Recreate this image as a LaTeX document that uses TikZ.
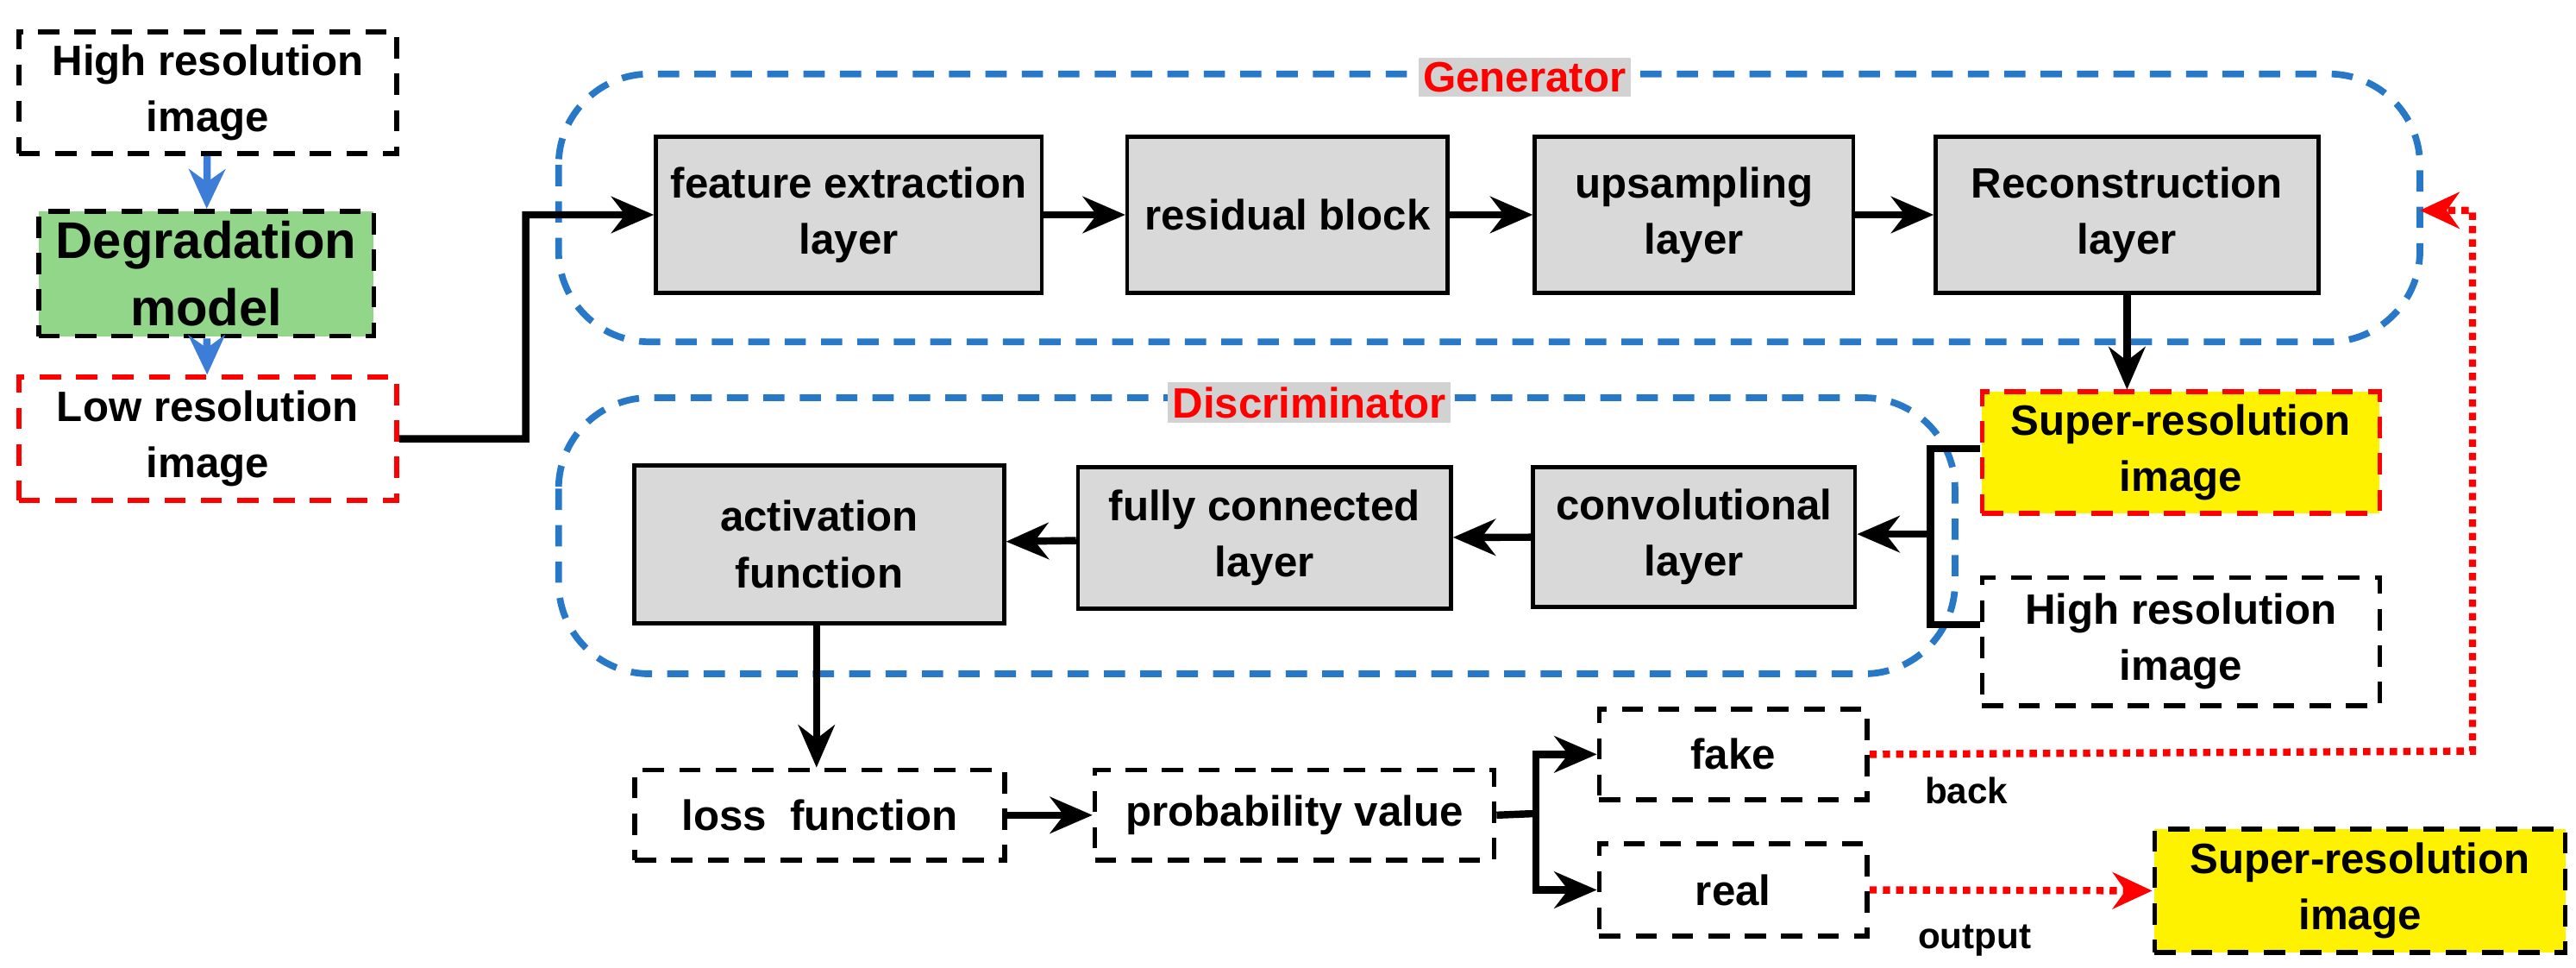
\documentclass[tikz,border=0pt]{standalone}
\usepackage{fontspec}
\setmainfont{Liberation Sans}
\usetikzlibrary{arrows.meta}
\newcommand\UU{0.01905cm}
\definecolor{dgreen}{RGB}{146,214,138}
\definecolor{gblue}{RGB}{40,120,200}
\definecolor{abl}{RGB}{60,125,215}
\begin{document}
\begin{tikzpicture}[x=\UU,y=-\UU,
 box/.style={draw,line width=1.6pt,dash pattern=on 7pt off 5pt,font=\bfseries\fontsize{14}{18.5}\selectfont,align=center,anchor=north west,inner sep=0pt},
 gbox/.style={draw,line width=1.3pt,fill=gray!30,font=\bfseries\fontsize{14}{18.5}\selectfont,align=center,anchor=north west,inner sep=0pt},
 grp/.style={draw=gblue,line width=2.2pt,dash pattern=on 7pt off 5pt,rounded corners=30pt},
 ar/.style={line width=2.4pt,-{Stealth[length=14pt,width=12pt]}},
 bar/.style={draw=abl,line width=2.4pt,-{Stealth[length=13pt,width=12pt]}},
 rd/.style={draw=red,line width=2.4pt,dotted,-{Stealth[length=13pt,width=12pt]}},
 lab/.style={font=\bfseries\fontsize{14}{18}\selectfont,text=red,fill=gray!35,inner sep=1.5pt}]
\useasboundingbox (0,0) rectangle (1568,588.5);
% left column
\node[box,minimum width=230*\UU,minimum height=74*\UU] (hr) at (10,18) {High resolution\\image};
\node[box,fill=dgreen,minimum width=204*\UU,minimum height=76*\UU,font=\bfseries\fontsize{17}{22}\selectfont] (deg) at (22,127) {Degradation\\model};
\node[box,draw=red,minimum width=230*\UU,minimum height=75*\UU] (lr) at (10,228) {Low resolution\\image};
\draw[bar] (hr) -- (deg);
\draw[bar] (deg) -- (lr);
% groups
\draw[grp] (340,45) rectangle (1473,208);
\node[lab] (gl) at (928,47) {Generator};
\draw[grp] (340,242) rectangle (1190,410);
\node[lab] (dl) at (797,245) {Discriminator};
% generator
\node[gbox,minimum width=235*\UU,minimum height=95*\UU] (fe) at (398,82) {feature extraction\\layer};
\node[gbox,minimum width=195*\UU,minimum height=95*\UU] (rb) at (685,82) {residual block};
\node[gbox,minimum width=194*\UU,minimum height=95*\UU] (up) at (933,82) {upsampling\\layer};
\node[gbox,minimum width=233*\UU,minimum height=95*\UU] (rc) at (1177,82) {Reconstruction\\layer};
\draw[ar] (lr.east) -- (320,267) |- (fe.west);
\draw[ar] (fe) -- (rb);
\draw[ar] (rb) -- (up);
\draw[ar] (up) -- (rc);
% SR
\node[box,draw=red,fill=yellow,minimum width=242*\UU,minimum height=74*\UU] (sr) at (1205,237) {Super-resolution\\image};
\draw[ar] (rc.south) -- (sr.north -| rc.south);
\node[box,minimum width=242*\UU,minimum height=78*\UU] (hr2) at (1205,350) {High resolution\\image};
% discriminator
\node[gbox,minimum width=225*\UU,minimum height=96*\UU] (af) at (385,282) {activation\\function};
\node[gbox,minimum width=227*\UU,minimum height=86*\UU] (fc) at (655,283) {fully connected\\layer};
\node[gbox,minimum width=196*\UU,minimum height=85*\UU] (cv) at (932,283) {convolutional\\layer};
\coordinate (j) at (1175,325);
\draw[line width=2.4pt] (sr.west |- 0,273) -- (1175,273) -- (1175,380) -- (hr2.west |- 0,380);
\draw[ar] (j) -- (cv.east |- j);
\draw[ar] (cv) -- (fc);
\draw[ar] (fc) -- (af);
% bottom
\node[box,minimum width=225*\UU,minimum height=55*\UU] (lf) at (385,467) {loss\ \ function};
\node[box,minimum width=243*\UU,minimum height=55*\UU] (pv) at (665,467) {probability value};
\node[box,minimum width=163*\UU,minimum height=55*\UU] (fk) at (972,430) {fake};
\node[box,minimum width=163*\UU,minimum height=56*\UU] (rl) at (972,512) {real};
\node[box,fill=yellow,minimum width=250*\UU,minimum height=75*\UU] (sr2) at (1310,503) {Super-resolution\\image};
\draw[ar] (af.south -| 497,0) -- (lf.north -| 497,0);
\draw[ar] (lf) -- (pv);
\coordinate (b) at (935,495);
\draw[line width=2.4pt] (pv.east) -- (b);
\draw[ar] (b) |- (fk.west);
\draw[ar] (b) |- (rl.west);
\draw[rd] (fk.east) -- (1505,457) -- (1505,128) -- (1473,128);
\draw[rd] (rl.east) -- (sr2.west);
\node[font=\bfseries\fontsize{12}{14}\selectfont] (bk) at (1197,481) {back};
\node[font=\bfseries\fontsize{12}{14}\selectfont] (op) at (1202,572) {output};
\end{tikzpicture}
\end{document}
